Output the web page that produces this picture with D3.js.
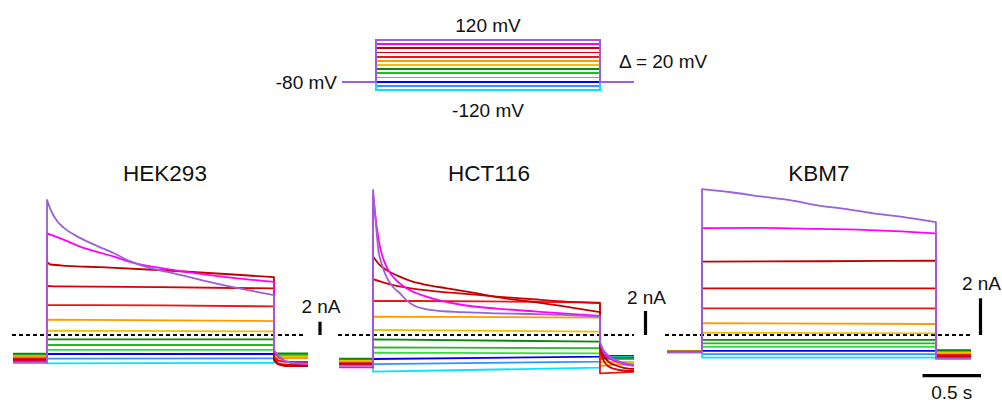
<!DOCTYPE html>
<html><head><meta charset="utf-8">
<script src="https://cdn.jsdelivr.net/npm/d3@7"></script>
<style>
body{margin:0;background:#fff}
svg{display:block;background:#fff}
text{font-family:"Liberation Sans",Arial,sans-serif;fill:#111}
</style>
</head><body>
<svg id="c" width="1002" height="403"></svg>
<script>
// ---------- DATA ----------
const voltages = [120, 100, 80, 60, 40, 20, 0, -20, -40, -60, -80, -100, -120];
const traceColors = ["#9c5fd8", "#ff00ff", "#c00000", "#d80000", "#ee1515", "#ff9a00", "#f0c000",
                     "#0a8a0a", "#22bb22", "#33e033", "#0000ff", "#2a96ff", "#00e4ff"];
const holdingV = -80;
const protocolTimes = [-0.3, 0, 2.0, 2.3];   // s: pre, step on, step off, end
const cellNames = ["HEK293", "HCT116", "KBM7"];
const scaleBarNA = 2;     // nA
const scaleBarS = 0.5;    // s

// HEK293 currents (nA), order follows voltages
const hekPre = [-4.2, -4.0, -3.8, -3.7, -3.5, -3.3, -3.2, -2.8, -2.9, -3.0, -3.0, -3.1, -3.1];
const hekStep = [
  [[0,20.3],[0.03,18.9],[0.09,17.1],[0.15,16.1],[0.29,14.6],[0.44,13.4],[0.59,12.3],[0.73,11.1],[0.88,10.2],[1.06,9.5],[1.35,8.3],[1.64,7.2],[2.0,6.0]],
  [[0,15.3],[0.15,14.3],[0.29,13.3],[0.44,12.5],[0.59,11.8],[0.73,11.0],[1.06,9.9],[1.35,9.2],[1.64,8.6],[2.0,8.0]],
  [[0,11.0],[0.03,10.6],[0.18,10.4],[0.47,10.2],[1.06,9.7],[1.64,9.1],[2.0,8.7]],
  [[0,7.4],[0.1,7.3],[1.0,7.2],[2.0,7.0]],
  [[0,4.5],[1.0,4.45],[2.0,4.3]],
  [[0,2.3],[2.0,2.1]],
  [[0,0.65],[2.0,0.55]],
  [[0,-0.65],[2.0,-0.65]],
  [[0,-1.5],[2.0,-1.5]],
  [[0,-2.25],[2.0,-2.25]],
  [[0,-2.86],[2.0,-2.86]],
  [[0,-3.56],[2.0,-3.5]],
  [[0,-4.26],[2.0,-4.17]]
];
const hekPost = [
  [[2.0,-2.26],[2.05,-3.31],[2.1,-3.91],[2.15,-4.21],[2.3,-4.36]],
  [[2.0,-2.56],[2.05,-3.46],[2.1,-3.91],[2.15,-4.14],[2.3,-4.29]],
  [[2.0,-3.76],[2.03,-4.36],[2.1,-4.66],[2.3,-4.66]],
  [[2.0,-3.46],[2.05,-4.36],[2.15,-4.51],[2.3,-4.51]],
  [[2.0,-3.31],[2.05,-3.91],[2.15,-4.06],[2.3,-4.06]],
  [[2.0,-3.46],[2.3,-3.46]],
  [[2.0,-3.31],[2.3,-3.31]],
  [[2.0,-2.75],[2.3,-2.75]],
  [[2.0,-2.9],[2.3,-2.9]],
  [[2.0,-3.0],[2.3,-3.0]],
  [[2.0,-3.05],[2.3,-3.05]],
  [[2.0,-3.1],[2.3,-3.1]],
  [[2.0,-3.15],[2.3,-3.15]]
];

// HCT116 currents (nA)
const hctPre = [-2.55, -2.7, -2.45, -2.4, -2.35, -2.25, -2.15, -1.97, -2.0, -2.03, -2.05, -2.08, -2.1];
const hctStep = [
  [[0,12.1],[0.03,8.75],[0.044,7.3],[0.074,6.0],[0.118,4.85],[0.176,4.0],[0.235,3.5],[0.294,2.9],[0.352,2.5],[0.5,2.1],[0.79,1.9],[1.09,1.8],[1.38,1.75],[1.67,1.67],[2.0,1.53]],
  [[0,11.7],[0.03,9.2],[0.06,7.4],[0.118,5.7],[0.176,4.85],[0.235,4.3],[0.32,3.75],[0.47,3.2],[0.79,2.5],[1.09,2.2],[1.38,2.0],[1.67,1.8],[2.0,1.6]],
  [[0,6.55],[0.06,5.83],[0.118,5.42],[0.235,4.86],[0.35,4.44],[0.47,4.17],[0.65,3.89],[0.88,3.53],[1.09,3.15],[1.38,2.8],[1.67,2.4],[2.0,1.9]],
  [[0,4.65],[0.118,4.3],[0.32,3.9],[0.6,3.6],[0.79,3.45],[1.09,3.2],[1.38,3.0],[1.67,2.8],[2.0,2.65]],
  [[0,2.85],[1.0,2.8],[2.0,2.7]],
  [[0,1.53],[2.0,1.45]],
  [[0,0.42],[2.0,0.28]],
  [[0,-0.36],[2.0,-0.56]],
  [[0,-1.03],[2.0,-1.1]],
  [[0,-1.47],[2.0,-1.53]],
  [[0,-2.0],[2.0,-1.8]],
  [[0,-2.42],[2.0,-2.22]],
  [[0,-3.06],[2.0,-2.72]]
];
const hctPost = [
  [[2.0,-0.56],[2.03,-1.25],[2.07,-1.67],[2.13,-2.04],[2.2,-2.29],[2.3,-2.5]],
  [[2.0,-0.67],[2.03,-1.42],[2.07,-1.83],[2.13,-2.17],[2.2,-2.38],[2.3,-2.58]],
  [[2.0,-0.83],[2.03,-1.67],[2.07,-2.17],[2.13,-2.5],[2.2,-2.71],[2.3,-2.83]],
  [[2.0,-1.08],[2.03,-2.08],[2.07,-2.58],[2.13,-2.83],[2.2,-2.96],[2.3,-3.0]],
  [[2.0,-3.19],[2.3,-3.08]],
  [[2.0,-2.58],[2.1,-2.5],[2.3,-2.42]],
  [[2.0,-2.25],[2.3,-2.25]],
  [[2.0,-1.89],[2.3,-1.89]],
  [[2.0,-1.96],[2.3,-1.96]],
  [[2.0,-2.0],[2.3,-2.0]],
  [[2.0,-1.75],[2.3,-1.75]],
  [[2.0,-1.8],[2.3,-1.8]],
  [[2.0,-1.85],[2.3,-1.85]]
];

// KBM7 currents (nA)
const kbmPre = [-0.95, -0.94, -0.93, -0.92, -0.91, -0.9, -0.9, -0.88, -0.88, -0.89, -0.9, -0.9, -0.91];
const kbmStep = [
  [[0,7.95],[0.25,7.78],[0.5,7.55],[0.75,7.35],[1.0,7.05],[1.25,6.85],[1.5,6.6],[1.75,6.4],[2.0,6.15]],
  [[0,5.82],[0.5,5.84],[1.0,5.78],[1.5,5.7],[2.0,5.54]],
  [[0,4.0],[1.0,4.02],[2.0,4.05]],
  [[0,2.54],[2.0,2.54]],
  [[0,1.45],[2.0,1.45]],
  [[0,0.64],[2.0,0.6]],
  [[0,0.13],[2.0,0.09]],
  [[0,-0.27],[2.0,-0.27]],
  [[0,-0.46],[2.0,-0.46]],
  [[0,-0.65],[2.0,-0.65]],
  [[0,-0.87],[2.0,-0.87]],
  [[0,-1.04],[2.0,-1.04]],
  [[0,-1.23],[2.0,-1.23]]
];
const kbmPost = [
  [[2.0,-1.3],[2.3,-1.3]],
  [[2.0,-1.25],[2.3,-1.25]],
  [[2.0,-1.2],[2.3,-1.2]],
  [[2.0,-1.15],[2.3,-1.15]],
  [[2.0,-1.08],[2.3,-1.08]],
  [[2.0,-1.03],[2.3,-1.03]],
  [[2.0,-0.98],[2.3,-0.98]],
  [[2.0,-0.82],[2.3,-0.82]],
  [[2.0,-0.85],[2.3,-0.85]],
  [[2.0,-0.88],[2.3,-0.88]],
  [[2.0,-0.9],[2.3,-0.9]],
  [[2.0,-0.92],[2.3,-0.92]],
  [[2.0,-0.94],[2.3,-0.94]]
];

// ---------- LAYOUT ----------
const svg = d3.select("#c");
const FONT_S = 19, FONT_T = 22.5;

// draw order: traces closest to holding potential first, largest excursions last
const order = d3.range(voltages.length).sort((a, b) =>
  Math.abs(voltages[a] - holdingV) - Math.abs(voltages[b] - holdingV) || voltages[a] - voltages[b]);

// ----- Voltage protocol -----
const px = d3.scaleLinear().domain([-0.3, 2.3]).range([342, 634]);
const py = d3.scaleLinear().domain([-120, 120]).range([90, 40]);
const pLine = d3.line().x(d => px(d[0])).y(d => py(d[1]));
const gProt = svg.append("g");
order.forEach(i => {
  const v = voltages[i];
  const pts = [[protocolTimes[0], holdingV], [protocolTimes[1], holdingV], [protocolTimes[1], v],
               [protocolTimes[2], v], [protocolTimes[2], holdingV], [protocolTimes[3], holdingV]];
  gProt.append("path").attr("d", pLine(pts)).attr("fill", "none")
    .attr("stroke", traceColors[i]).attr("stroke-width", 1.8)
    .attr("shape-rendering", "crispEdges");
});
gProt.append("text").attr("x", px(1.0)).attr("y", 31.5).attr("text-anchor", "middle")
  .attr("font-size", FONT_S).text(d3.max(voltages) + " mV");
gProt.append("text").attr("x", px(1.0)).attr("y", 116.5).attr("text-anchor", "middle")
  .attr("font-size", FONT_S).text(d3.min(voltages) + " mV");
gProt.append("text").attr("x", 337).attr("y", 89).attr("text-anchor", "end")
  .attr("font-size", FONT_S).text(holdingV + " mV");
gProt.append("text").attr("x", 619).attr("y", 67.5)
  .attr("font-size", FONT_S).text("\u0394 = " + (voltages[0] - voltages[1]) + " mV");

// ----- Current panels -----
const panels = [
  {pre: hekPre, step: hekStep, post: hekPost, xr: [13, 308], zeroY: 335, pxPerNA: 6.65,
   titleX: 165, barX: 320, labelY: 312.5, dotX: [12, 306]},
  {pre: hctPre, step: hctStep, post: hctPost, xr: [339, 634], zeroY: 335, pxPerNA: 12,
   titleX: 489, barX: 645.5, labelY: 304, dotX: [338, 634]},
  {pre: kbmPre, step: kbmStep, post: kbmPost, xr: [667, 971], zeroY: 335, pxPerNA: 18.35,
   titleX: 819, barX: 980.5, labelY: 290, dotX: [665, 972]}
];

panels.forEach((p, k) => {
  const g = svg.append("g");
  const x = d3.scaleLinear().domain([-0.3, 2.3]).range(p.xr);
  const y = d3.scaleLinear().domain([0, 10]).range([p.zeroY, p.zeroY - 10 * p.pxPerNA]);
  const line = d3.line().x(d => x(d[0])).y(d => y(d[1])).curve(d3.curveMonotoneX);
  const join = (...segs) => segs.map((s, j) => j ? s.replace(/^M/, "L") : s).join("");

  // zero line
  g.append("line").attr("x1", p.dotX[0]).attr("x2", p.dotX[1])
    .attr("y1", y(0)).attr("y2", y(0))
    .attr("stroke", "#000").attr("stroke-width", 2).attr("stroke-dasharray", "4,3");

  order.forEach(i => {
    const prePts = [[-0.3, p.pre[i]], [0, p.pre[i]]];
    const d = join(line(prePts), line(p.step[i]), line(p.post[i]));
    g.append("path").attr("d", d).attr("fill", "none")
      .attr("stroke", traceColors[i]).attr("stroke-width", 1.8)
      .attr("stroke-linejoin", "round");
  });

  // title
  g.append("text").attr("x", p.titleX).attr("y", 181).attr("text-anchor", "middle")
    .attr("font-size", FONT_T).text(cellNames[k]);

  // current scale bar
  g.append("line").attr("x1", p.barX).attr("x2", p.barX)
    .attr("y1", y(0)).attr("y2", y(scaleBarNA))
    .attr("stroke", "#000").attr("stroke-width", 3.2);
  g.append("text").attr("x", p.barX + 1).attr("y", p.labelY).attr("text-anchor", "middle")
    .attr("font-size", FONT_S).text(scaleBarNA + " nA");

  // time scale bar (last panel)
  if (k === panels.length - 1) {
    const right = p.barX + 0.5;
    const len = x(scaleBarS) - x(0);
    g.append("line").attr("x1", right - len).attr("x2", right)
      .attr("y1", 375.7).attr("y2", 375.7)
      .attr("stroke", "#000").attr("stroke-width", 3.2);
    g.append("text").attr("x", right - len / 2).attr("y", 399).attr("text-anchor", "middle")
      .attr("font-size", FONT_S).text(scaleBarS + " s");
  }
});
</script>
</body></html>
